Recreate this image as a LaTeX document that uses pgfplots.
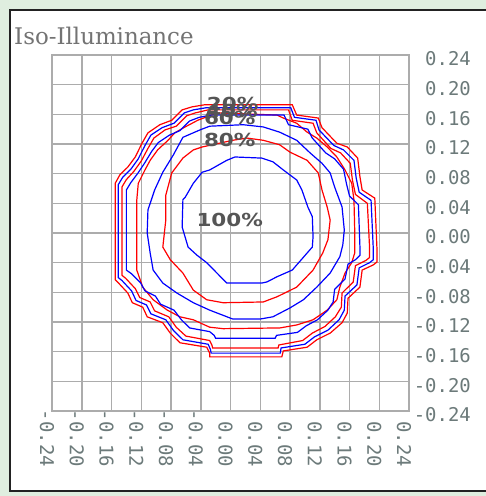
\documentclass[border=0pt]{standalone}
\usepackage{fontspec}
\usepackage{pgfplots}
\pgfplotsset{compat=1.18}
\newfontfamily\titlefont{DejaVu Serif}
\newfontfamily\tickfont{DejaVu Sans Mono}
\newfontfamily\labfont{DejaVu Sans}
\definecolor{bggreen}{RGB}{223,238,223}
\definecolor{framedark}{RGB}{34,34,34}
\definecolor{gridgray}{RGB}{172,172,172}
\definecolor{tickgray}{RGB}{108,122,122}
\definecolor{titlegray}{RGB}{115,115,115}
\definecolor{labgray}{RGB}{85,85,85}
\begin{document}
\begin{tikzpicture}
\useasboundingbox (0,0) rectangle (486bp,496bp);
\clip (0,0) rectangle (486bp,496bp);
\fill[bggreen] (0,0) rectangle (486bp,496bp);
\filldraw[fill=white, draw=framedark, line width=2bp] (10bp,5bp) rectangle (500bp,486bp);
\node[anchor=base west, inner sep=0pt, text=titlegray, font=\titlefont\fontsize{23}{23}\selectfont] at (14bp,451bp) {Iso-Illuminance};
\begin{axis}[
  at={(52bp,85bp)}, anchor=south west,
  scale only axis, width=357bp, height=356bp,
  xmin=-0.24, xmax=0.24, ymin=-0.24, ymax=0.24,
  xtick={-0.24,-0.20,-0.16,-0.12,-0.08,-0.04,0,0.04,0.08,0.12,0.16,0.20,0.24},
  ytick={-0.24,-0.20,-0.16,-0.12,-0.08,-0.04,0,0.04,0.08,0.12,0.16,0.20,0.24},
  xticklabels={-0.24,-0.20,-0.16,-0.12,-0.08,-0.04,0.00,0.04,0.08,0.12,0.16,0.20,0.24},
  yticklabels={-0.24,-0.20,-0.16,-0.12,-0.08,-0.04,0.00,0.04,0.08,0.12,0.16,0.20,0.24},
  grid=major,
  major grid style={draw=gridgray, line width=1.5bp},
  axis line style={draw=gridgray, line width=1.5bp},
  major tick length=0pt,
  yticklabel pos=right,
  ticklabel style={font=\tickfont\fontsize{19}{19}\selectfont, text=tickgray, inner sep=0pt},
  yticklabel style={anchor=east, xshift=62bp, yshift=-4bp},
  xticklabel style={xshift=-5bp, yshift=-56bp, rotate=-90, anchor=east},
  clip=true,
]
% B1 (100%)
\addplot[blue, line width=1.2bp] coordinates {
(0.006,0.1025) (0.042,0.101) (0.057,0.096) (0.071,0.085) (0.089,0.0715) (0.096,0.058)
(0.104,0.035) (0.110,0.022) (0.111,-0.005) (0.110,-0.019) (0.103,-0.027) (0.083,-0.050)
(0.0625,-0.059) (0.049,-0.066) (0.042,-0.0675) (-0.005,-0.0675) (-0.032,-0.040)
(-0.045,-0.030) (-0.057,-0.019) (-0.065,0.008) (-0.064,0.045) (-0.061,0.048)
(-0.050,0.067) (-0.038,0.082) (-0.028,0.085) (-0.005,0.098) (0.006,0.1025)};
% R1
\addplot[red, line width=1.2bp] coordinates {
(0.003,0.125) (0.022,0.128) (0.044,0.125) (0.066,0.119) (0.080,0.109) (0.103,0.098)
(0.118,0.081) (0.123,0.058) (0.130,0.035) (0.134,0.0175) (0.131,-0.009) (0.124,-0.027)
(0.111,-0.050) (0.089,-0.073) (0.0625,-0.086) (0.044,-0.093) (-0.010,-0.094)
(-0.032,-0.090) (-0.050,-0.077) (-0.064,-0.054) (-0.081,-0.036) (-0.091,-0.019)
(-0.087,0.0175) (-0.087,0.051) (-0.079,0.081) (-0.064,0.101) (-0.050,0.112)
(-0.038,0.116) (0.003,0.125)};
% B2
\addplot[blue, line width=1.2bp] coordinates {
(-0.028,0.144) (0.017,0.146) (0.044,0.143) (0.066,0.136) (0.089,0.125) (0.107,0.108)
(0.123,0.094) (0.134,0.081) (0.140,0.062) (0.150,0.035) (0.153,0.004) (0.151,-0.016)
(0.147,-0.032) (0.134,-0.054) (0.116,-0.073) (0.098,-0.090) (0.080,-0.101)
(0.057,-0.113) (0.040,-0.116) (0.003,-0.116) (-0.028,-0.104) (-0.050,-0.094)
(-0.072,-0.081) (-0.091,-0.0675) (-0.104,-0.050) (-0.108,-0.027) (-0.112,0.000)
(-0.111,0.031) (-0.102,0.058) (-0.091,0.082) (-0.077,0.105) (-0.064,0.129)
(-0.041,0.139) (-0.028,0.144)};
% R2
\addplot[red, line width=1.2bp] coordinates {
(-0.044,0.152) (-0.018,0.162) (0.0625,0.159) (0.071,0.155) (0.089,0.148) (0.103,0.136)
(0.116,0.128) (0.130,0.116) (0.143,0.1025) (0.154,0.085) (0.163,0.067) (0.166,0.0445)
(0.167,0.004) (0.167,-0.027) (0.163,-0.040) (0.154,-0.054) (0.147,-0.073)
(0.143,-0.090) (0.130,-0.104) (0.111,-0.117) (0.089,-0.124) (0.0665,-0.128)
(-0.010,-0.129) (-0.028,-0.127) (-0.050,-0.117) (-0.068,-0.113) (-0.085,-0.104)
(-0.104,-0.090) (-0.118,-0.073) (-0.126,-0.050) (-0.126,0.000) (-0.126,0.0445)
(-0.124,0.067) (-0.115,0.085) (-0.108,0.098) (-0.098,0.112) (-0.084,0.125)
(-0.075,0.135) (-0.061,0.143) (-0.044,0.152)};
% B3
\addplot[blue, line width=1.2bp] coordinates {
(-0.026,0.159) (0.072,0.159) (0.078,0.146) (0.104,0.140) (0.110,0.128) (0.128,0.108)
(0.140,0.100) (0.152,0.086) (0.156,0.066) (0.160,0.050) (0.172,0.038) (0.174,-0.018)
(0.174,-0.030) (0.168,-0.036) (0.158,-0.042) (0.154,-0.062) (0.140,-0.076)
(0.138,-0.093) (0.131,-0.104) (0.117,-0.117) (0.102,-0.125) (0.090,-0.134)
(0.062,-0.138) (0.060,-0.142) (-0.020,-0.142) (-0.022,-0.138) (-0.028,-0.133)
(-0.055,-0.128) (-0.066,-0.117) (-0.076,-0.104) (-0.094,-0.096) (-0.101,-0.085)
(-0.115,-0.078) (-0.121,-0.067) (-0.133,-0.055) (-0.140,-0.050) (-0.140,0.058)
(-0.134,0.068) (-0.125,0.080) (-0.115,0.095) (-0.106,0.110) (-0.097,0.122)
(-0.082,0.132) (-0.068,0.138) (-0.055,0.151) (-0.042,0.156) (-0.026,0.159)};
% R3
\addplot[red, line width=1.2bp] coordinates {
(-0.030,0.166) (0.078,0.166) (0.083,0.152) (0.111,0.148) (0.116,0.135) (0.135,0.114)
(0.148,0.108) (0.161,0.094) (0.164,0.071) (0.168,0.052) (0.184,0.040) (0.187,-0.020)
(0.187,-0.033) (0.182,-0.037) (0.168,-0.044) (0.165,-0.066) (0.150,-0.081)
(0.149,-0.100) (0.141,-0.113) (0.127,-0.126) (0.110,-0.135) (0.097,-0.145)
(0.065,-0.151) (0.064,-0.155) (-0.024,-0.155) (-0.025,-0.151) (-0.028,-0.145)
(-0.060,-0.139) (-0.073,-0.127) (-0.083,-0.113) (-0.102,-0.105) (-0.108,-0.093)
(-0.122,-0.087) (-0.128,-0.075) (-0.141,-0.061) (-0.146,-0.057) (-0.146,0.062)
(-0.140,0.072) (-0.130,0.083) (-0.120,0.097) (-0.111,0.114) (-0.103,0.128)
(-0.088,0.139) (-0.073,0.144) (-0.059,0.158) (-0.047,0.162) (-0.030,0.166)};
% B4
\addplot[blue, line width=1.2bp] coordinates {
(-0.032,0.169) (0.081,0.169) (0.086,0.156) (0.115,0.152) (0.119,0.139) (0.139,0.118)
(0.152,0.112) (0.166,0.098) (0.169,0.074) (0.173,0.055) (0.189,0.044) (0.192,-0.022)
(0.192,-0.036) (0.187,-0.040) (0.173,-0.047) (0.170,-0.070) (0.154,-0.085)
(0.153,-0.104) (0.146,-0.117) (0.131,-0.131) (0.113,-0.140) (0.100,-0.150)
(0.068,-0.155) (0.067,-0.162) (-0.026,-0.162) (-0.027,-0.157) (-0.030,-0.150)
(-0.064,-0.144) (-0.077,-0.131) (-0.087,-0.117) (-0.107,-0.109) (-0.113,-0.097)
(-0.127,-0.091) (-0.133,-0.078) (-0.146,-0.064) (-0.151,-0.060) (-0.151,0.065)
(-0.145,0.075) (-0.134,0.086) (-0.124,0.100) (-0.115,0.118) (-0.107,0.132)
(-0.092,0.142) (-0.076,0.148) (-0.062,0.162) (-0.050,0.166) (-0.032,0.169)};
% R4
\addplot[red, line width=1.2bp] coordinates {
(-0.034,0.173) (0.083,0.173) (0.089,0.159) (0.118,0.155) (0.123,0.142) (0.143,0.121)
(0.157,0.116) (0.171,0.101) (0.174,0.076) (0.177,0.058) (0.194,0.047) (0.197,-0.023)
(0.197,-0.039) (0.192,-0.043) (0.177,-0.050) (0.174,-0.073) (0.158,-0.088)
(0.157,-0.108) (0.150,-0.121) (0.134,-0.135) (0.116,-0.144) (0.103,-0.154)
(0.071,-0.159) (0.069,-0.167) (-0.028,-0.167) (-0.028,-0.162) (-0.032,-0.154)
(-0.068,-0.148) (-0.081,-0.135) (-0.091,-0.121) (-0.112,-0.113) (-0.118,-0.100)
(-0.132,-0.094) (-0.138,-0.081) (-0.151,-0.067) (-0.155,-0.063) (-0.155,0.067)
(-0.149,0.078) (-0.138,0.089) (-0.128,0.1025) (-0.119,0.121) (-0.111,0.135)
(-0.095,0.146) (-0.079,0.152) (-0.065,0.166) (-0.052,0.170) (-0.034,0.173)};
\node[text=labgray, font=\labfont\bfseries\fontsize{18}{18}\selectfont, inner sep=0pt, xscale=1.2] at (axis cs:-0.001,0.018) {100\%};
\node[text=labgray, font=\labfont\bfseries\fontsize{18}{18}\selectfont, inner sep=0pt, xscale=1.2] at (axis cs:-0.001,0.125) {80\%};
\node[text=labgray, font=\labfont\bfseries\fontsize{18}{18}\selectfont, inner sep=0pt, xscale=1.2] at (axis cs:-0.001,0.155) {60\%};
\node[text=labgray, font=\labfont\bfseries\fontsize{18}{18}\selectfont, inner sep=0pt, xscale=1.2] at (axis cs:0.002,0.164) {40\%};
\node[text=labgray, font=\labfont\bfseries\fontsize{18}{18}\selectfont, inner sep=0pt, xscale=1.2] at (axis cs:0.003,0.174) {20\%};
\end{axis}
\end{tikzpicture}
\end{document}
